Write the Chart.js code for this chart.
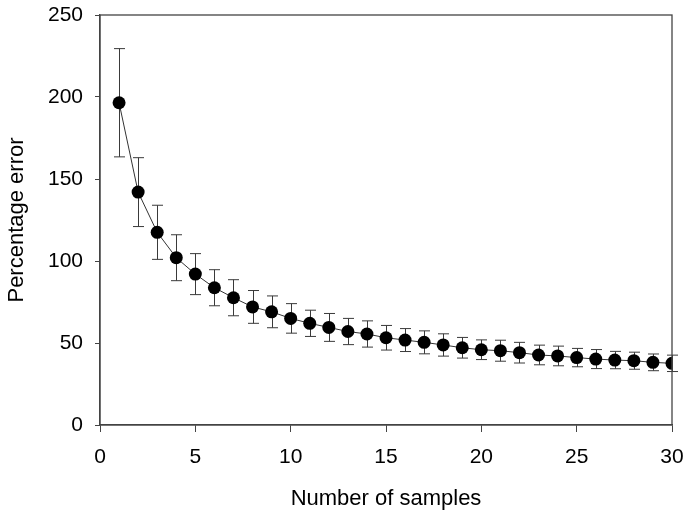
<!DOCTYPE html>
<html>
<head>
<meta charset="utf-8">
<script src="https://cdn.jsdelivr.net/npm/chart.js@4/dist/chart.umd.min.js"></script>
<style>
    html, body { margin: 0; padding: 0; background: #fff; }
    #wrap { width: 690px; height: 519px; }
</style>
</head>
<body>
<div id="wrap"><canvas id="myChart" width="690" height="519"></canvas></div>
<script>
// data
const samples = [1, 2, 3, 4, 5, 6, 7, 8, 9, 10, 11, 12, 13, 14, 15,
    16, 17, 18, 19, 20, 21, 22, 23, 24, 25, 26, 27, 28, 29, 30];
const meanError = [196.5, 142, 117.5, 102, 92, 83.7, 77.6, 72, 69, 65, 62, 59.5, 57, 55.5, 53.2,
    51.8, 50.4, 48.8, 47.1, 45.9, 45.3, 44.1, 42.7, 42.1, 41.1, 40.2, 39.6, 39.2, 38.2, 37.6];
const errBar = [33, 21, 16.5, 14, 12.5, 11, 11, 10, 9.7, 9, 8, 8.5, 8, 8, 7.5,
    7, 7, 6.8, 6.3, 6, 6.4, 6.3, 6, 6, 5.6, 5.8, 5.3, 5.2, 5.1, 5];
const xTicks = [0, 5, 10, 15, 20, 25, 30];
const yTicks = [0, 50, 100, 150, 200, 250];

const font = "'Liberation Sans', Arial, sans-serif";

// error bars, drawn under the points
const errorBars = {
    id: "errorBars",
    beforeDatasetsDraw(chart) {
        const ctx = chart.ctx;
        const xs = chart.scales.x;
        const ys = chart.scales.y;
        ctx.save();
        ctx.strokeStyle = "#3a3a3a";
        ctx.lineWidth = 1;
        samples.forEach((s, i) => {
            const px = Math.round(xs.getPixelForValue(s)) + 0.5;
            const top = ys.getPixelForValue(meanError[i] + errBar[i]);
            const bot = ys.getPixelForValue(meanError[i] - errBar[i]);
            ctx.beginPath();
            ctx.moveTo(px, top);
            ctx.lineTo(px, bot);
            ctx.moveTo(px - 5.5, top);
            ctx.lineTo(px + 5.5, top);
            ctx.moveTo(px - 5.5, bot);
            ctx.lineTo(px + 5.5, bot);
            ctx.stroke();
        });
        ctx.restore();
    }
};

// closed box round the plot area
const frame = {
    id: "frame",
    afterDraw(chart) {
        const a = chart.chartArea;
        const ctx = chart.ctx;
        ctx.save();
        ctx.strokeStyle = "#444";
        ctx.lineWidth = 1.3;
        ctx.strokeRect(a.left, a.top, a.right - a.left, a.bottom - a.top);
        ctx.restore();
    }
};

const ctx = document.getElementById("myChart").getContext("2d");

new Chart(ctx, {
    type: "line",
    data: {
        datasets: [{
            data: samples.map((s, i) => ({ x: s, y: meanError[i] })),
            borderColor: "#333",
            borderWidth: 1,
            backgroundColor: "#000",
            pointBackgroundColor: "#000",
            pointBorderColor: "#000",
            pointRadius: 6.5,
            pointBorderWidth: 0,
            tension: 0
        }]
    },
    options: {
        responsive: false,
        animation: false,
        layout: { padding: { top: 15, right: 18, left: 0, bottom: 0 } },
        plugins: {
            legend: { display: false },
            tooltip: { enabled: false }
        },
        scales: {
            x: {
                type: "linear",
                min: 0,
                max: 30,
                afterFit: s => {
                    s.height = 94;
                    s.paddingLeft = 0;
                    s.paddingRight = 0;
                },
                afterBuildTicks: s => { s.ticks = xTicks.map(v => ({ value: v })); },
                grid: { drawOnChartArea: false, drawTicks: true, tickLength: 7, color: "#444" },
                border: { display: true, color: "#444", width: 1.3 },
                ticks: { color: "#000", padding: 13, font: { family: font, size: 21 } },
                title: {
                    display: true,
                    text: "Number of samples",
                    color: "#000",
                    padding: { top: 0, bottom: 7 },
                    font: { family: font, size: 22 }
                }
            },
            y: {
                min: 0,
                max: 250,
                afterFit: s => {
                    s.width = 100;
                    s.paddingTop = 0;
                    s.paddingBottom = 0;
                },
                afterBuildTicks: s => { s.ticks = yTicks.map(v => ({ value: v })); },
                grid: { drawOnChartArea: false, drawTicks: true, tickLength: 5, color: "#444" },
                border: { display: true, color: "#444", width: 1.3 },
                ticks: { color: "#000", padding: 12, font: { family: font, size: 21 } },
                title: {
                    display: true,
                    text: "Percentage error",
                    color: "#000",
                    padding: { top: 4, bottom: 0 },
                    font: { family: font, size: 22 }
                }
            }
        }
    },
    plugins: [errorBars, frame]
});
</script>
</body>
</html>
